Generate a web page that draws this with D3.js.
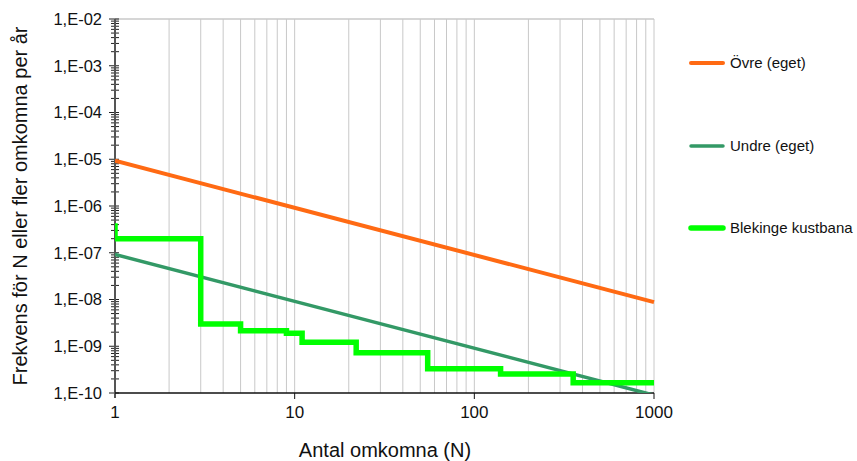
<!DOCTYPE html>
<html>
<head>
<meta charset="utf-8">
<script src="https://cdn.jsdelivr.net/npm/d3@7"></script>
<style>
  body { margin: 0; background: #fff; }
  svg { display: block; font-family: "Liberation Sans", Arial, sans-serif; }
</style>
</head>
<body>
<svg id="chart" width="857" height="461"></svg>
<script>
// F/N-kurvor: frekvens för N eller fler omkomna per år
const ovreN = [1, 1000];
const ovreF = [9.3e-6, 8.8e-9];
const undreN = [1, 1000];
const undreF = [9.2e-8, 9.0e-11];
const blekingeN = [1, 1, 3, 5, 9, 11, 22, 55, 140, 355, 1000];
const blekingeF = [4.3e-7, 2.0e-7, 3.0e-9, 2.15e-9, 1.9e-9, 1.22e-9, 7.3e-10, 3.3e-10, 2.55e-10, 1.65e-10, 1.65e-10];

const xTicks = [1, 10, 100, 1000];
const xTickLabels = ["1", "10", "100", "1000"];
const yTicks = [1e-2, 1e-3, 1e-4, 1e-5, 1e-6, 1e-7, 1e-8, 1e-9, 1e-10];
const yTickLabels = ["1,E-02", "1,E-03", "1,E-04", "1,E-05", "1,E-06", "1,E-07", "1,E-08", "1,E-09", "1,E-10"];

const seriesNames = ["Övre (eget)", "Undre (eget)", "Blekinge kustbana"];
const seriesColors = ["#ff6a13", "#339966", "#00ff00"];

const svg = d3.select("#chart");
const plotLeft = 115, plotRight = 654, plotTop = 19, plotBottom = 393;

const x = d3.scaleLog().domain([1, 1000]).range([plotLeft, plotRight]);
const y = d3.scaleLog().domain([1e-10, 1e-2]).range([plotBottom, plotTop]);

svg.append("defs").append("clipPath").attr("id", "plotClip")
  .append("rect").attr("x", plotLeft).attr("y", plotTop - 3)
  .attr("width", plotRight - plotLeft + 3).attr("height", plotBottom - plotTop + 3);

// vertikala stödlinjer (2..9 i varje dekad samt dekaderna)
const gridVals = [];
for (let d = 1; d < 1000; d *= 10) for (let k = 2; k <= 10; k++) gridVals.push(d * k);
svg.append("g").selectAll("line").data(gridVals).join("line")
  .attr("x1", d => x(d)).attr("x2", d => x(d))
  .attr("y1", plotTop).attr("y2", plotBottom)
  .attr("stroke", "#c8c8c8").attr("stroke-width", 1);

// övre ram
svg.append("line").attr("x1", plotLeft).attr("x2", plotRight).attr("y1", plotTop).attr("y2", plotTop)
  .attr("stroke", "#c8c8c8").attr("stroke-width", 1.5);

// y-axel med log-ticks
const yMinor = [];
for (let e = -10; e < -2; e++) for (let k = 2; k <= 9; k++) yMinor.push(k * Math.pow(10, e));
const yAxisG = svg.append("g");
yAxisG.selectAll("line.minor").data(yMinor).join("line")
  .attr("class", "minor")
  .attr("x1", plotLeft - 4).attr("x2", plotLeft + 4)
  .attr("y1", d => y(d)).attr("y2", d => y(d))
  .attr("stroke", "#222").attr("stroke-width", 1);
yAxisG.selectAll("line.major").data(yTicks).join("line")
  .attr("class", "major")
  .attr("x1", plotLeft - 6).attr("x2", plotLeft + 4)
  .attr("y1", d => y(d)).attr("y2", d => y(d))
  .attr("stroke", "#222").attr("stroke-width", 1);
yAxisG.append("line").attr("x1", plotLeft).attr("x2", plotLeft).attr("y1", plotTop).attr("y2", plotBottom + 5)
  .attr("stroke", "#555").attr("stroke-width", 2);
yAxisG.selectAll("text").data(yTicks).join("text")
  .attr("x", plotLeft - 13).attr("y", d => y(d)).attr("dy", "0.35em")
  .attr("text-anchor", "end").attr("font-size", 16.5).attr("fill", "#111")
  .text((d, i) => yTickLabels[i]);

// x-axel
const xAxisG = svg.append("g");
xAxisG.append("line").attr("x1", plotLeft).attr("x2", plotRight).attr("y1", plotBottom).attr("y2", plotBottom)
  .attr("stroke", "#111").attr("stroke-width", 1.5);
xAxisG.selectAll("line.tick").data(xTicks.slice(1)).join("line")
  .attr("class", "tick")
  .attr("x1", d => x(d)).attr("x2", d => x(d)).attr("y1", plotBottom).attr("y2", plotBottom + 6)
  .attr("stroke", "#111").attr("stroke-width", 1);
xAxisG.selectAll("text").data(xTicks).join("text")
  .attr("x", d => x(d)).attr("y", plotBottom + 25)
  .attr("text-anchor", "middle").attr("font-size", 17).attr("fill", "#111")
  .text((d, i) => xTickLabels[i]);

// axeltitlar
svg.append("text").attr("x", 385).attr("y", 457).attr("text-anchor", "middle")
  .attr("font-size", 20).attr("fill", "#111").text("Antal omkomna (N)");
svg.append("text").attr("transform", "translate(27,206) rotate(-90)")
  .attr("text-anchor", "middle").attr("font-size", 20).attr("fill", "#111")
  .text("Frekvens för N eller fler omkomna per år");

// kurvor
const plot = svg.append("g").attr("clip-path", "url(#plotClip)");
const zip = (ns, fs) => ns.map((n, i) => [n, fs[i]]);
const lineGen = d3.line().x(d => x(d[0])).y(d => y(d[1]));
const stepGen = d3.line().x(d => x(d[0])).y(d => y(d[1])).curve(d3.curveStepAfter);

plot.append("path").datum(zip(ovreN, ovreF)).attr("d", lineGen)
  .attr("fill", "none").attr("stroke", seriesColors[0]).attr("stroke-width", 4);
plot.append("path").datum(zip(undreN, undreF)).attr("d", lineGen)
  .attr("fill", "none").attr("stroke", seriesColors[1]).attr("stroke-width", 3.5);
plot.append("path").datum(zip(blekingeN, blekingeF)).attr("d", stepGen)
  .attr("fill", "none").attr("stroke", seriesColors[2]).attr("stroke-width", 5.5)
  .attr("stroke-linejoin", "miter");

// teckenförklaring
const legendY = [63, 146, 228];
const legendW = [4, 3.5, 5.5];
const lg = svg.append("g");
seriesNames.forEach((name, i) => {
  lg.append("line").attr("x1", 691).attr("x2", 723).attr("y1", legendY[i]).attr("y2", legendY[i])
    .attr("stroke", seriesColors[i]).attr("stroke-width", legendW[i]).attr("stroke-linecap", "round");
  lg.append("text").attr("x", 730).attr("y", legendY[i]).attr("dy", "0.35em")
    .attr("font-size", 15).attr("fill", "#111").text(name);
});
</script>
</body>
</html>
